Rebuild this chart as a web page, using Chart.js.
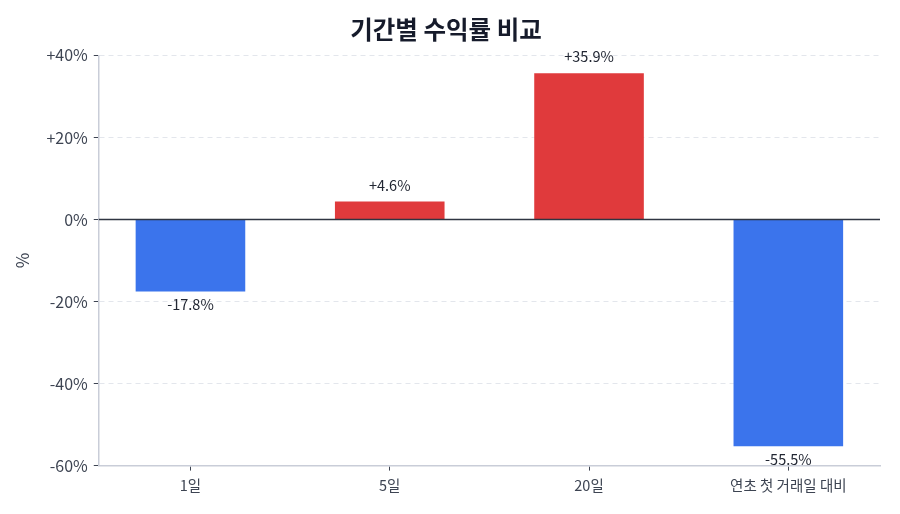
<!DOCTYPE html>
<html><head><meta charset="utf-8">
<script src="https://cdn.jsdelivr.net/npm/chart.js@4"></script>
<style>html,body{margin:0;padding:0;background:#fff}#wrap{width:900px;height:514px}</style>
</head><body><div id="wrap"><canvas id="c" width="900" height="514"></canvas></div>
<script>
const categories = ['1일', '5일', '20일', '연초 첫 거래일 대비'];
const returns = [-17.8, 4.6, 35.9, -55.5];
const yTickValues = [-60, -40, -20, 0, 20, 40];
const titleText = '기간별 수익률 비교';
const yAxisTitle = '%';

const RED = '#E03A3C';
const BLUE = '#3B74EC';
const FONT = "'Noto Sans CJK KR', 'Noto Sans', sans-serif";

const fmt = v => (v > 0 ? '+' : '') + v.toFixed(1) + '%';
const tickFmt = v => (v > 0 ? '+' : '') + v + '%';

const valueLabels = {
  id: 'valueLabels',
  afterDatasetsDraw(chart) {
    const ctx = chart.ctx;
    const yScale = chart.scales.y;
    const y0 = yScale.getPixelForValue(0);
    ctx.save();
    ctx.strokeStyle = '#2f3542';
    ctx.lineWidth = 1.5;
    ctx.beginPath();
    ctx.moveTo(chart.chartArea.left, y0);
    ctx.lineTo(chart.chartArea.right, y0);
    ctx.stroke();
    const meta = chart.getDatasetMeta(0);
    ctx.font = "14.5px " + FONT;
    ctx.fillStyle = '#222733';
    ctx.textAlign = 'center';
    meta.data.forEach((el, i) => {
      const v = returns[i];
      if (v >= 0) {
        ctx.textBaseline = 'bottom';
        ctx.fillText(fmt(v), el.x, el.y - 8);
      } else {
        ctx.textBaseline = 'top';
        ctx.fillText(fmt(v), el.x, el.y + 5);
      }
    });
    ctx.restore();
  }
};

new Chart(document.getElementById('c'), {
  type: 'bar',
  data: {
    datasets: [{
      data: returns.map((v, i) => ({ x: i, y: v })),
      backgroundColor: returns.map(v => v >= 0 ? RED : BLUE),
      borderColor: 'rgba(255,255,255,0.5)',
      borderWidth: 1,
      barPercentage: 0.56,
      categoryPercentage: 1.0
    }]
  },
  options: {
    responsive: false,
    animation: false,
    devicePixelRatio: 1,
    layout: { padding: { left: 12, right: 20, top: 0, bottom: 14 } },
    plugins: {
      legend: { display: false },
      tooltip: { enabled: false },
      title: {
        display: true,
        text: titleText,
        color: '#161b2b',
        font: { family: FONT, size: 24.5, weight: 'bold' },
        padding: { top: 15, bottom: 11 }
      }
    },
    scales: {
      x: {
        type: 'linear',
        offset: false,
        min: -0.46,
        max: 3.46,
        afterBuildTicks: axis => { axis.ticks = categories.map((_, i) => ({ value: i })); },
        ticks: {
          callback: v => categories[v],
          color: '#3d4452',
          font: { family: FONT, size: 14.5 },
          padding: 6,
          maxRotation: 0,
          autoSkip: false
        },
        grid: { offset: false, drawOnChartArea: false, drawTicks: true, tickLength: 5, tickColor: '#3d4452', tickWidth: 1 },
        border: { display: true, color: '#c9cdd8', width: 1.5 }
      },
      y: {
        min: -60,
        max: 40,
        afterBuildTicks: axis => { axis.ticks = yTickValues.map(v => ({ value: v })); },
        ticks: {
          callback: v => tickFmt(v),
          color: '#3d4452',
          font: { family: FONT, size: 16 },
          padding: 6
        },
        title: {
          display: true,
          text: yAxisTitle,
          color: '#3d4452',
          font: { family: FONT, size: 17 },
          padding: { top: 0, bottom: 8 }
        },
        grid: {
          color: '#e3e6ec',
          lineWidth: 1,
          tickLength: 5,
          tickColor: '#3d4452',
          tickWidth: 1,
          tickBorderDash: []
        },
        border: { display: true, color: '#c9cdd8', width: 1.5, dash: [5, 4] }
      }
    }
  },
  plugins: [valueLabels]
});
</script>
</body></html>
